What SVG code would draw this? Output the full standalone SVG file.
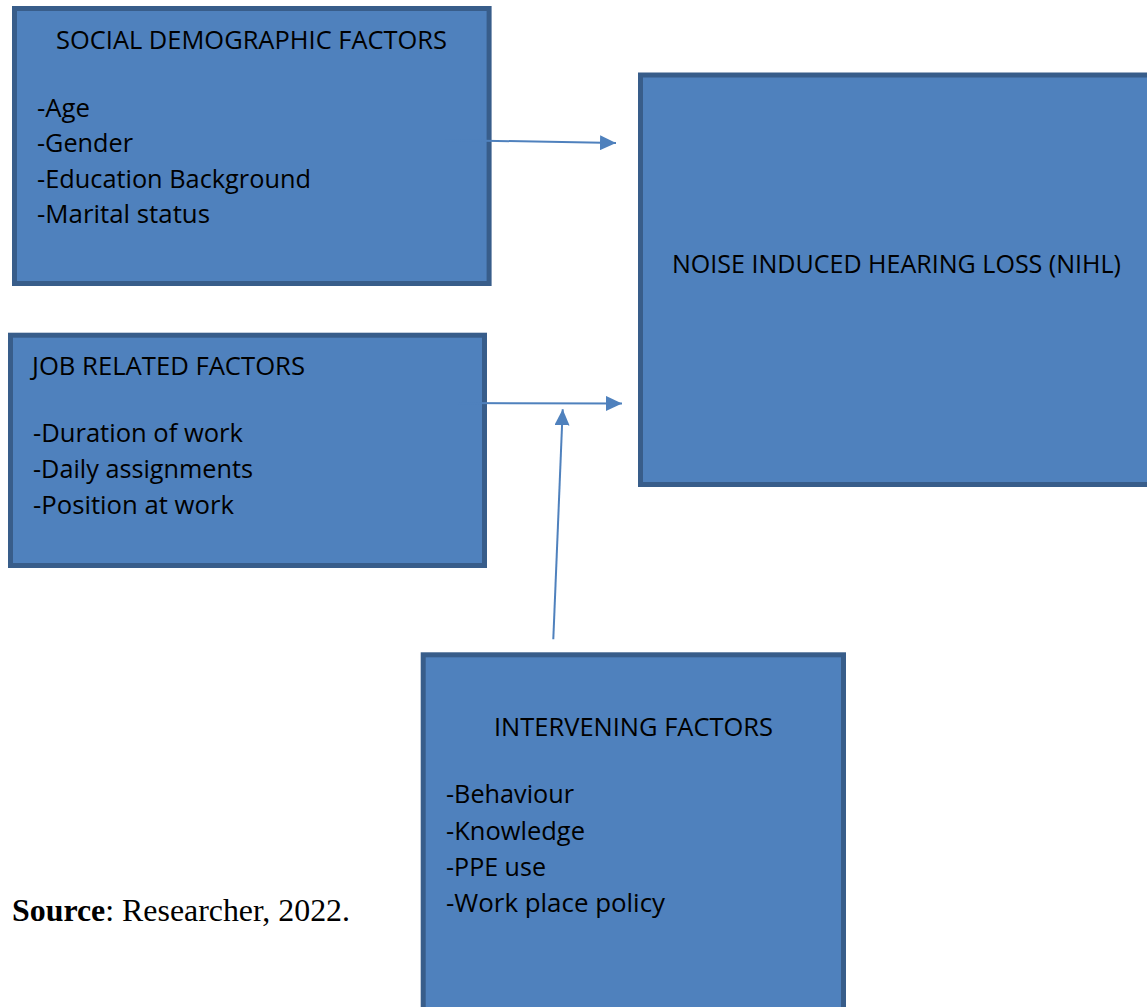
<svg xmlns="http://www.w3.org/2000/svg" width="1147" height="1007" viewBox="0 0 1147 1007">
  <style>
    .box { fill: #4F81BD; stroke: #385D8A; stroke-width: 5; }
    .t { font-family: "Open Sans", "Noto Sans", "DejaVu Sans", sans-serif; font-size: 25.6px; fill: #000000; }
    .conn { stroke: #4F81BD; stroke-width: 2; fill: none; }
    .src { font-family: "Liberation Serif", "Times New Roman", serif; font-size: 31.7px; fill: #000000; }
  </style>
  <defs>
    <marker id="arrow" markerUnits="userSpaceOnUse" markerWidth="16" markerHeight="15" refX="16" refY="7.5" orient="auto">
      <path d="M0,0 L16,7.5 L0,15 Z" fill="#4F81BD"/>
    </marker>
  </defs>
  <rect width="1147" height="1007" fill="#FFFFFF"/>

  <g id="social-demographic">
    <rect class="box" x="14.5" y="8.5" width="474.6" height="275"/>
    <text class="t" x="56" y="49" textLength="391" lengthAdjust="spacingAndGlyphs">SOCIAL DEMOGRAPHIC FACTORS</text>
    <text class="t" x="37" y="117" textLength="53" lengthAdjust="spacingAndGlyphs">-Age</text>
    <text class="t" x="37" y="152" textLength="96" lengthAdjust="spacingAndGlyphs">-Gender</text>
    <text class="t" x="37" y="188" textLength="274" lengthAdjust="spacingAndGlyphs">-Education Background</text>
    <text class="t" x="37" y="223" textLength="173" lengthAdjust="spacingAndGlyphs">-Marital status</text>
  </g>

  <g id="job-related">
    <rect class="box" x="10.5" y="335.2" width="474" height="230.3"/>
    <text class="t" x="32" y="375" textLength="273" lengthAdjust="spacingAndGlyphs">JOB RELATED FACTORS</text>
    <text class="t" x="33" y="442" textLength="210" lengthAdjust="spacingAndGlyphs">-Duration of work</text>
    <text class="t" x="33" y="478" textLength="220" lengthAdjust="spacingAndGlyphs">-Daily assignments</text>
    <text class="t" x="33" y="514" textLength="201" lengthAdjust="spacingAndGlyphs">-Position at work</text>
  </g>

  <g id="nihl">
    <rect class="box" x="640.5" y="75" width="520" height="409.5"/>
    <text class="t" x="672" y="273" textLength="449" lengthAdjust="spacingAndGlyphs">NOISE INDUCED HEARING LOSS (NIHL)</text>
  </g>

  <g id="intervening">
    <rect class="box" x="423.2" y="654.8" width="420.3" height="400"/>
    <text class="t" x="494" y="736" textLength="279" lengthAdjust="spacingAndGlyphs">INTERVENING FACTORS</text>
    <text class="t" x="446" y="803" textLength="128" lengthAdjust="spacingAndGlyphs">-Behaviour</text>
    <text class="t" x="446" y="840" textLength="139" lengthAdjust="spacingAndGlyphs">-Knowledge</text>
    <text class="t" x="446" y="876" textLength="100" lengthAdjust="spacingAndGlyphs">-PPE use</text>
    <text class="t" x="446" y="912" textLength="219" lengthAdjust="spacingAndGlyphs">-Work place policy</text>
  </g>

  <g id="connectors">
    <line class="conn" x1="445" y1="140" x2="616" y2="143" marker-end="url(#arrow)"/>
    <line class="conn" x1="452" y1="403" x2="622" y2="403.5" marker-end="url(#arrow)"/>
    <line class="conn" x1="553.3" y1="639.3" x2="562.7" y2="409.3" marker-end="url(#arrow)"/>
  </g>

  <g id="source">
    <text class="src" x="12" y="921" textLength="338" lengthAdjust="spacingAndGlyphs"><tspan font-weight="bold">Source</tspan>: Researcher, 2022.</text>
  </g>
</svg>
